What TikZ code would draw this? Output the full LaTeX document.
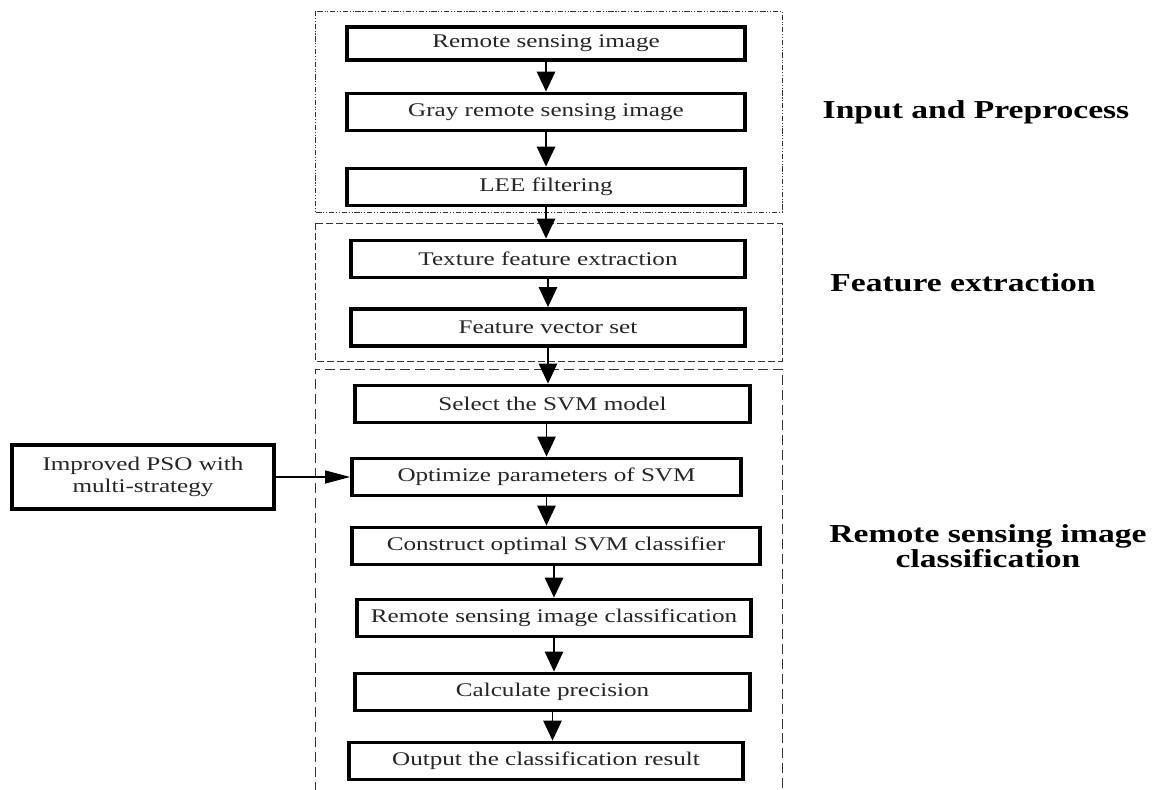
\documentclass[tikz,border=0pt]{standalone}
\usepackage{fontspec}
\setmainfont{Liberation Serif}[FakeStretch=1.3]
\usetikzlibrary{arrows.meta}

\begin{document}
\begin{tikzpicture}[x=0.02cm,y=-0.02cm,
  >={Triangle[length=4mm,width=3.7mm]},
  box/.style={draw,line width=2.2pt,minimum height=0.74cm,inner sep=0pt,
    font=\fontsize{11}{13}\selectfont,text=black!85},
  flow/.style={->,line width=0.7pt},
  grp/.style={line width=0.5pt,black!80},
  lbl/.style={font=\fontsize{14.7}{14.5}\selectfont\bfseries,align=center}]

  \useasboundingbox (0,0) rectangle (1152,790);

  \draw[grp,dash pattern=on 3pt off 1pt on 0.6pt off 1pt on 0.6pt off 1pt]
    (315,11) rectangle (782,212);
  \draw[grp,dash pattern=on 4pt off 1.7pt] (315,223) rectangle (782,361);
  \draw[grp,dash pattern=on 5.7pt off 2.8pt] (315,792) |- (782,369) -- (782,792);

  \node[box,minimum width=7.96cm,minimum height=0.66cm] (rsi) at (546,43.5) {Remote sensing image};
  \node[box,minimum width=7.96cm] (gray) at (546,112) {Gray remote sensing image};
  \node[box,minimum width=7.96cm] (lee)  at (546,187) {LEE filtering};

  \node[box,minimum width=7.88cm] (tex) at (548,259)   {Texture feature extraction};
  \node[box,minimum width=7.88cm] (fvs) at (548,327.5) {Feature vector set};

  \node[box,minimum width=7.9cm]  (sel) at (552.5,404) {Select the SVM model};
  \node[box,minimum width=7.78cm] (opt) at (546.5,477) {Optimize parameters of SVM};
  \node[box,minimum width=8.16cm] (con) at (556,546)   {Construct optimal SVM classifier};
  \node[box,minimum width=7.88cm] (rsc) at (554,618)   {Remote sensing image classification};
  \node[box,minimum width=7.9cm]  (cal) at (552.5,692) {Calculate precision};
  \node[box,minimum width=7.88cm] (out) at (546,761)   {Output the classification result};

  \node[box,minimum width=5.24cm,minimum height=1.28cm,align=center,
    font=\fontsize{11}{12.5}\selectfont] (pso) at (143,477)
    {Improved PSO with\\multi-strategy};

  \draw[flow] (rsi.south)  -- (rsi.south |- gray.north);
  \draw[flow] (gray.south) -- (gray.south |- lee.north);
  \draw[flow] (lee.south)  -- (lee.south |- tex.north);
  \draw[flow] (tex.south)  -- (tex.south |- fvs.north);
  \draw[flow] (fvs.south)  -- (fvs.south |- sel.north);
  \draw[flow] (opt.north |- sel.south) -- (opt.north);
  \draw[flow] (opt.south)  -- (opt.south |- con.north);
  \draw[flow] (rsc.north |- con.south) -- (rsc.north);
  \draw[flow] (rsc.south)  -- (rsc.south |- cal.north);
  \draw[flow] (cal.south)  -- (cal.south |- out.north);
  \draw[flow,>={Triangle[length=5mm,width=2.6mm]}] (pso.east) -- (pso.east -| opt.west);

  \node[lbl] (l1) at (976,112) {Input and Preprocess};
  \node[lbl] (l2) at (963,283) {Feature extraction};
  \node[lbl] (l3) at (988,546) {Remote sensing image\\classification};
\end{tikzpicture}
\end{document}
